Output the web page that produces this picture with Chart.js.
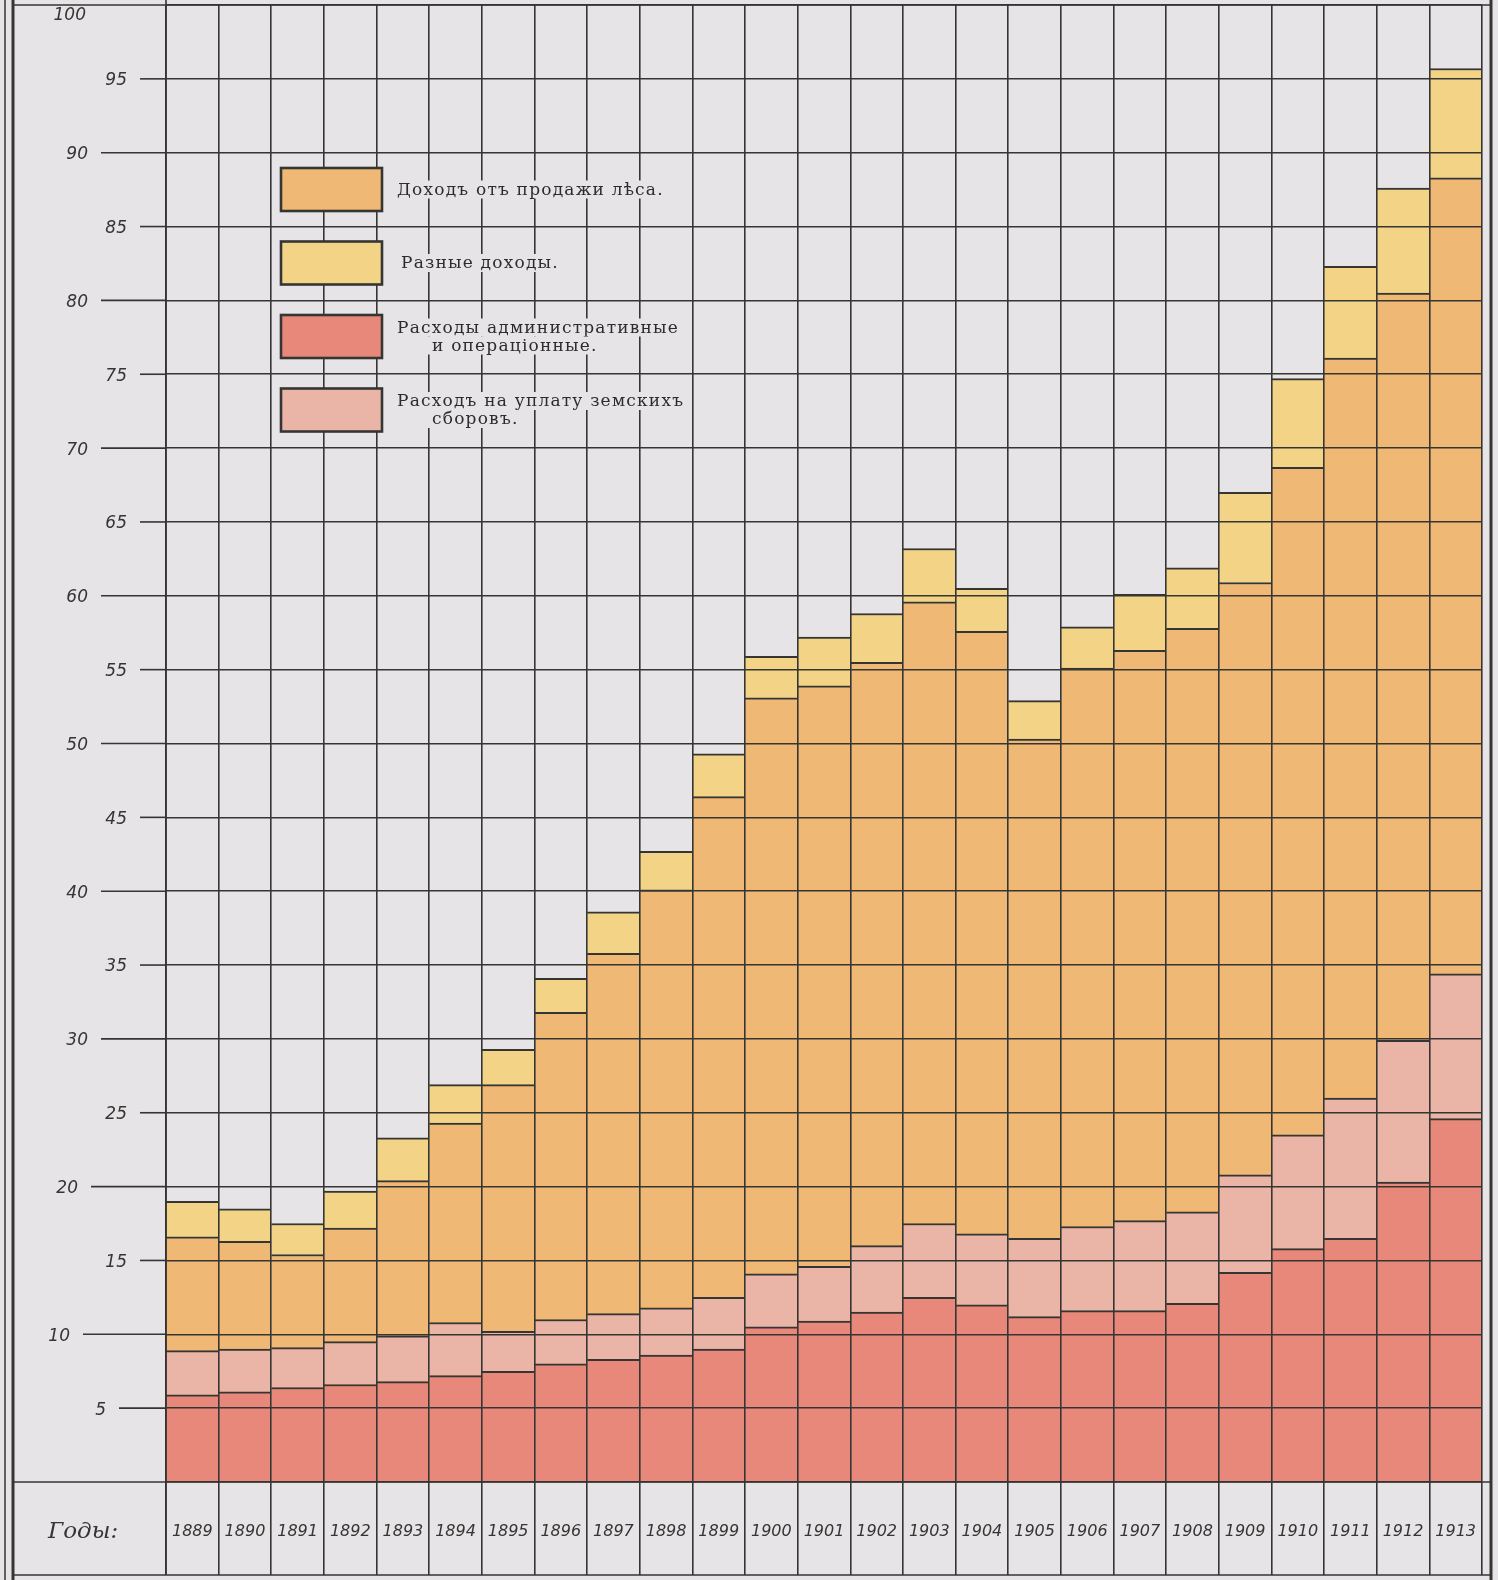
<!DOCTYPE html>
<html lang="ru">
<head>
<meta charset="utf-8">
<title>Доходы и расходы по лѣсному хозяйству</title>
<script src="https://cdn.jsdelivr.net/npm/chart.js@4.4.1/dist/chart.umd.min.js"></script>
<style>
  html, body { margin: 0; padding: 0; background: #e6e4e6; }
  #wrap { width: 1498px; height: 1580px; }
</style>
</head>
<body>
<div id="wrap"><canvas id="chart" width="1498" height="1580"></canvas></div>
<script>
// годы и суммы (в млн. руб.)
const years = ['1889', '1890', '1891', '1892', '1893', '1894', '1895', '1896', '1897', '1898', '1899', '1900', '1901',
    '1902', '1903', '1904', '1905', '1906', '1907', '1908', '1909', '1910', '1911', '1912', '1913'];

const forestIncome = [16.6, 16.3, 15.4, 17.2, 20.4, 24.3, 26.9, 31.8, 35.8, 40.1, 46.4, 53.1, 53.9,
    55.5, 59.6, 57.6, 50.3, 55.1, 56.3, 57.8, 60.9, 68.7, 76.1, 80.5, 88.3];
const otherIncome = [2.4, 2.2, 2.1, 2.5, 2.9, 2.6, 2.4, 2.3, 2.8, 2.6, 2.9, 2.8, 3.3,
    3.3, 3.6, 2.9, 2.6, 2.8, 3.8, 4.1, 6.1, 6.0, 6.2, 7.1, 7.4];
const adminExpenses = [5.9, 6.1, 6.4, 6.6, 6.8, 7.2, 7.5, 8.0, 8.3, 8.6, 9.0, 10.5, 10.9,
    11.5, 12.5, 12.0, 11.2, 11.6, 11.6, 12.1, 14.2, 15.8, 16.5, 20.3, 24.6];
const zemstvoDues = [3.0, 2.9, 2.7, 2.9, 3.1, 3.6, 2.7, 3.0, 3.1, 3.2, 3.5, 3.6, 3.7,
    4.5, 5.0, 4.8, 5.3, 5.7, 6.1, 6.2, 6.6, 7.7, 9.5, 9.6, 9.8];

const yTickLabels = [5, 10, 15, 20, 25, 30, 35, 40, 45, 50, 55, 60, 65, 70, 75, 80, 85, 90, 95, 100];

const ink = '#353633';
const paper = '#e6e4e6';
const colors = {
    forest: '#efb875',
    other: '#f3d487',
    admin: '#e8887b',
    zemstvo: '#eab4a7'
};

// рамка, подписи оси Y и легенда рисуются поверх графика
const framePlugin = {
    id: 'frame',
    beforeDraw(chart) {
        const ctx = chart.ctx;
        ctx.save();
        ctx.fillStyle = paper;
        ctx.fillRect(0, 0, chart.width, chart.height);
        ctx.restore();
    },
    afterDraw(chart) {
        const { ctx, chartArea: area, scales: { y } } = chart;
        const bottomRow = 1575;
        ctx.save();
        ctx.strokeStyle = ink;
        ctx.fillStyle = '#353533';

        // подписи шкалы и продолжения линий сетки влево
        ctx.font = 'italic 17px "DejaVu Sans"';
        ctx.textAlign = 'right';
        ctx.textBaseline = 'middle';
        yTickLabels.forEach(v => {
            const py = y.getPixelForValue(v);
            let right;
            if (v % 10 === 0) {
                right = v >= 30 ? 88 : (v === 20 ? 78 : 70);
            } else {
                right = v >= 15 ? 127 : 106;
            }
            if (v === 100) {
                ctx.fillText(String(v), 86, py + 11);
                return;
            }
            ctx.fillText(String(v), right, py + 2);
            ctx.lineWidth = 1.6;
            ctx.beginPath();
            ctx.moveTo(right + 13, py);
            ctx.lineTo(area.left, py);
            ctx.stroke();
        });

        // внешняя рамка
        const y0 = y.getPixelForValue(0);
        ctx.lineWidth = 1.6;
        [area.top, y0, bottomRow].forEach(py => {
            ctx.beginPath();
            ctx.moveTo(13, py);
            ctx.lineTo(1491, py);
            ctx.stroke();
        });
        ctx.beginPath();
        ctx.moveTo(area.left, 0);
        ctx.lineTo(area.left, bottomRow);
        ctx.stroke();

        ctx.lineWidth = 1.5;
        ctx.beginPath();
        ctx.moveTo(5, 0);
        ctx.lineTo(5, chart.height);
        ctx.stroke();
        ctx.lineWidth = 3;
        ctx.beginPath();
        ctx.moveTo(13, 0);
        ctx.lineTo(13, chart.height);
        ctx.moveTo(1491, 0);
        ctx.lineTo(1491, chart.height);
        ctx.stroke();

        // подпись строки годов
        ctx.font = 'italic 23px "DejaVu Serif"';
        ctx.textAlign = 'left';
        ctx.fillText('Годы:', 48, 1532);

        // легенда
        const order = [2, 3, 0, 1];
        ctx.font = '17px "DejaVu Serif"';
        ctx.letterSpacing = '1.2px';
        order.forEach((dsIndex, i) => {
            const ds = chart.data.datasets[dsIndex];
            const top = 168 + i * 73.5;
            ctx.fillStyle = ds.backgroundColor;
            ctx.fillRect(281, top, 101, 43);
            ctx.lineWidth = 2.6;
            ctx.strokeStyle = ink;
            ctx.strokeRect(281, top, 101, 43);

            const lines = ds.label.split('\n');
            const mid = top + 21.5;
            lines.forEach((line, j) => {
                const tx = j === 0 ? (i === 1 ? 401 : 397) : 432;
                const ty = lines.length === 1 ? mid : mid - 9 + j * 18;
                const w = ctx.measureText(line).width;
                ctx.fillStyle = paper;
                ctx.fillRect(tx - 4, ty - 9, w + 8, 18);
                ctx.fillStyle = '#2c2c2a';
                ctx.fillText(line, tx, ty + 1);
            });
        });
        ctx.restore();
    }
};

const barStyle = {
    grouped: false,
    borderColor: ink,
    borderWidth: { top: 2, right: 0, bottom: 0, left: 0 },
    borderSkipped: false,
    categoryPercentage: 1,
    barPercentage: 1
};

new Chart(document.getElementById('chart'), {
    type: 'bar',
    data: {
        labels: years,
        datasets: [
            { ...barStyle, label: 'Расходы административные\nи операцiонные.', data: adminExpenses, stack: 'expense', backgroundColor: colors.admin },
            { ...barStyle, label: 'Расходъ на уплату земскихъ\nсборовъ.', data: zemstvoDues, stack: 'expense', backgroundColor: colors.zemstvo },
            { ...barStyle, label: 'Доходъ отъ продажи лѣса.', data: forestIncome, stack: 'income', backgroundColor: colors.forest },
            { ...barStyle, label: 'Разные доходы.', data: otherIncome, stack: 'income', backgroundColor: colors.other }
        ]
    },
    options: {
        responsive: false,
        animation: false,
        devicePixelRatio: 1,
        layout: { padding: { top: 5, right: 16, bottom: 0, left: 0 } },
        plugins: {
            legend: { display: false },
            tooltip: { enabled: false }
        },
        scales: {
            x: {
                offset: true,
                grid: { z: 1, offset: true, color: ink, lineWidth: 1.6, tickLength: 93 },
                border: { display: false },
                ticks: {
                    z: 1,
                    color: '#353533',
                    font: { family: 'DejaVu Sans', size: 16, style: 'italic' },
                    padding: -53,
                    maxRotation: 0,
                    autoSkip: false
                },
                afterFit(scale) { scale.height = 98; }
            },
            y: {
                stacked: true,
                min: 0,
                max: 100,
                ticks: { stepSize: 5, display: false },
                grid: { z: 1, color: ink, lineWidth: 1.6, drawTicks: false },
                border: { display: false },
                afterFit(scale) { scale.width = 166; }
            }
        }
    },
    plugins: [framePlugin]
});
</script>
</body>
</html>
